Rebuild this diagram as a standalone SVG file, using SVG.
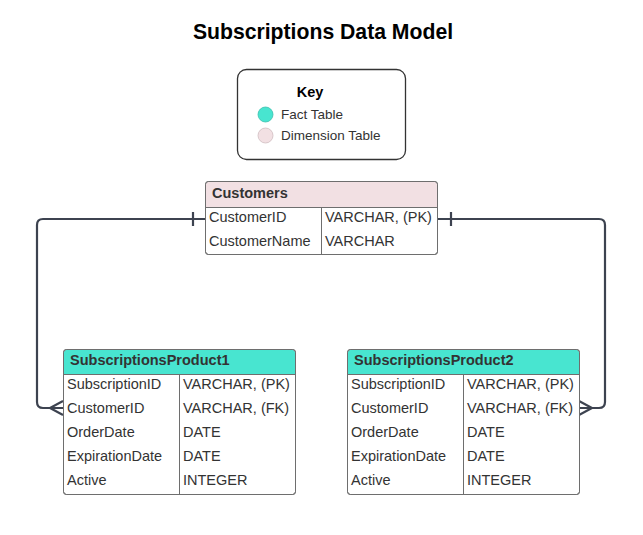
<svg xmlns="http://www.w3.org/2000/svg" width="643" height="535" viewBox="0 0 643 535">
<style>
text{font-family:"Liberation Sans",Arial,sans-serif;fill:#333333;}
.t{font-size:21.2px;font-weight:bold;fill:#000;}
.h{font-size:14.5px;font-weight:bold;fill:#333;}
.r{font-size:14.5px;}
.k{font-size:13.5px;}
.box{fill:#ffffff;stroke:#6e6e6e;stroke-width:1;}
.div{stroke:#6e6e6e;stroke-width:1;}
.dim{fill:#f2e0e3;}
.fact{fill:#48e5d0;}
.conn{fill:none;stroke:#3d4350;stroke-width:2.2;}
</style>
<rect width="643" height="535" fill="#ffffff"/>
<text class="t" x="323" y="39" text-anchor="middle">Subscriptions Data Model</text>

<g id="key">
<rect x="237.5" y="69.5" width="168" height="90" rx="9" fill="#ffffff" stroke="#333333" stroke-width="1.3"/>
<text x="310" y="97" text-anchor="middle" style="font-size:14.5px;font-weight:bold;fill:#000">Key</text>
<circle cx="265.5" cy="114.5" r="7.5" fill="#48e5d0" stroke="#3bbfad" stroke-width="0.8"/>
<text class="k" x="281" y="118.5">Fact Table</text>
<circle cx="265.5" cy="135.5" r="7.5" fill="#f2e0e3" stroke="#cfbcc0" stroke-width="0.8"/>
<text class="k" x="281" y="139.5">Dimension Table</text>
</g>

<g id="connectors">
<path class="conn" d="M206 219 H43 Q37 219 37 225 V402 Q37 408 43 408 H63"/>
<line class="conn" x1="193" y1="212" x2="193" y2="226"/>
<path class="conn" d="M63 401 L50 408 L63 415"/>
<path class="conn" d="M437 219 H599 Q605 219 605 225 V402 Q605 408 599 408 H579"/>
<line class="conn" x1="451" y1="212" x2="451" y2="226"/>
<path class="conn" d="M579 401 L592 408 L579 415"/>
</g>

<g id="customers">
<rect class="box" x="205.5" y="181.5" width="232" height="73" rx="3"/>
<path class="dim" d="M208.5 182 H434.5 Q437 182 437 184.5 V207 H206 V184.5 Q206 182 208.5 182 Z"/>
<rect x="205.5" y="181.5" width="232" height="73" rx="3" fill="none" stroke="#6e6e6e"/>
<line class="div" x1="205.5" y1="207.5" x2="437.5" y2="207.5"/>
<line class="div" x1="321.5" y1="207.5" x2="321.5" y2="254.5"/>
<text class="h" x="212" y="197.5">Customers</text>
<text class="r" x="209" y="221.5">CustomerID</text>
<text class="r" x="325" y="221.5">VARCHAR, (PK)</text>
<text class="r" x="209" y="245.5">CustomerName</text>
<text class="r" x="325" y="245.5">VARCHAR</text>
</g>

<g id="subscriptionsproduct1">
<rect class="box" x="63.5" y="349.5" width="232" height="145" rx="3"/>
<path class="fact" d="M66.5 350 H292.5 Q295 350 295 352.5 V374 H64 V352.5 Q64 350 66.5 350 Z"/>
<rect x="63.5" y="349.5" width="232" height="145" rx="3" fill="none" stroke="#6e6e6e"/>
<line class="div" x1="63.5" y1="374.5" x2="295.5" y2="374.5"/>
<line class="div" x1="179.5" y1="374.5" x2="179.5" y2="494.5"/>
<text class="h" x="70" y="365">SubscriptionsProduct1</text>
<text class="r" x="67" y="389">SubscriptionID</text>
<text class="r" x="183" y="389">VARCHAR, (PK)</text>
<text class="r" x="67" y="413">CustomerID</text>
<text class="r" x="183" y="413">VARCHAR, (FK)</text>
<text class="r" x="67" y="437">OrderDate</text>
<text class="r" x="183" y="437">DATE</text>
<text class="r" x="67" y="461">ExpirationDate</text>
<text class="r" x="183" y="461">DATE</text>
<text class="r" x="67" y="485">Active</text>
<text class="r" x="183" y="485">INTEGER</text>
</g>

<g id="subscriptionsproduct2">
<rect class="box" x="347.5" y="349.5" width="232" height="145" rx="3"/>
<path class="fact" d="M350.5 350 H576.5 Q579 350 579 352.5 V374 H348 V352.5 Q348 350 350.5 350 Z"/>
<rect x="347.5" y="349.5" width="232" height="145" rx="3" fill="none" stroke="#6e6e6e"/>
<line class="div" x1="347.5" y1="374.5" x2="579.5" y2="374.5"/>
<line class="div" x1="463.5" y1="374.5" x2="463.5" y2="494.5"/>
<text class="h" x="354" y="365">SubscriptionsProduct2</text>
<text class="r" x="351" y="389">SubscriptionID</text>
<text class="r" x="467" y="389">VARCHAR, (PK)</text>
<text class="r" x="351" y="413">CustomerID</text>
<text class="r" x="467" y="413">VARCHAR, (FK)</text>
<text class="r" x="351" y="437">OrderDate</text>
<text class="r" x="467" y="437">DATE</text>
<text class="r" x="351" y="461">ExpirationDate</text>
<text class="r" x="467" y="461">DATE</text>
<text class="r" x="351" y="485">Active</text>
<text class="r" x="467" y="485">INTEGER</text>
</g>
</svg>
